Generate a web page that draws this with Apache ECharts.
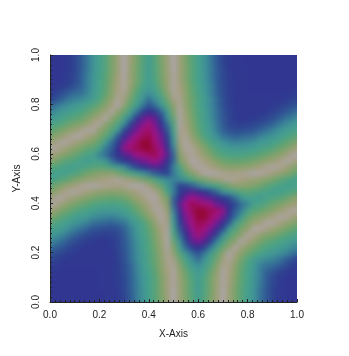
<!DOCTYPE html>
<html><head><meta charset="utf-8">
<style>html,body{margin:0;padding:0;background:#fff}#c{width:349px;height:356px}</style>
<script src="https://cdn.jsdelivr.net/npm/echarts@6/dist/echarts.min.js"></script>
</head><body><div id="c"></div>
<script>
const xTitle = 'X-Axis', yTitle = 'Y-Axis';
const step = 0.025;
const r00=[33,33,33,33,33,33,33,33,33,34,34,35,38,43,49,57,64,72,82,92,100,92,82,72,62,72,82,92,100,92,82,72,64,57,49,43,38,35,34,33,33];
const r01=[33,33,33,33,33,33,33,33,33,34,34,35,38,43,50,57,64,73,82,92,100,92,82,72,62,72,82,92,100,92,82,72,64,57,49,43,38,35,34,33,33];
const r02=[33,33,33,33,33,33,33,33,34,34,34,35,39,44,50,57,65,73,83,93,100,91,81,71,61,71,81,91,100,92,82,72,64,57,49,43,38,35,34,33,33];
const r03=[33,33,33,33,33,33,33,33,34,34,34,36,39,44,50,58,65,73,83,93,99,91,81,71,61,71,81,91,99,93,83,73,65,58,50,44,39,36,34,33,33];
const r04=[34,33,33,33,33,33,33,33,34,34,34,36,39,44,51,58,65,73,83,93,99,90,80,70,61,70,81,91,99,94,84,74,66,58,51,44,39,36,34,33,33];
const r05=[34,34,33,33,33,33,33,33,34,34,34,36,40,45,52,59,66,75,85,95,99,89,78,67,60,66,78,89,99,95,85,75,66,59,51,45,42,38,36,34,34];
const r06=[36,35,34,34,34,34,34,34,34,34,34,36,40,45,52,60,67,76,86,96,98,86,72,61,56,62,72,85,97,96,86,76,67,60,52,48,47,44,41,37,35];
const r07=[38,37,35,34,34,34,34,34,34,34,34,37,41,47,54,61,69,78,87,97,96,80,66,56,48,58,68,80,94,98,90,80,70,62,57,54,52,49,45,41,37];
const r08=[42,40,38,36,35,34,34,34,34,34,34,37,41,47,54,61,69,78,88,98,88,72,58,48,42,50,63,75,88,100,94,86,78,72,67,62,59,56,53,49,46];
const r09=[48,44,42,39,37,35,34,34,34,34,35,38,42,48,55,63,70,80,90,99,84,62,46,36,30,38,50,65,78,88,99,92,86,80,74,69,66,62,59,56,52];
const r10=[54,50,47,43,40,38,36,35,34,34,35,38,43,48,56,63,71,81,91,99,78,56,38,24,20,25,36,52,67,80,88,100,94,88,82,76,73,69,66,62,59];
const r11=[61,57,53,49,45,42,40,38,37,36,37,39,43,50,58,65,73,83,93,99,72,48,31,20,12,19,26,38,55,70,80,88,99,96,90,84,82,78,73,69,66];
const r12=[67,63,60,56,51,48,45,42,41,40,40,41,45,51,59,66,75,85,95,98,68,42,26,17,9,13,20,28,40,59,72,82,88,99,99,96,91,87,82,78,74];
const r13=[75,70,66,62,58,55,52,48,47,46,45,47,49,56,62,69,79,89,98,96,62,37,22,14,6,8,14,21,30,43,61,74,83,90,94,99,99,96,91,87,83];
const r14=[84,79,74,69,65,61,60,56,54,53,52,54,57,62,69,77,86,94,99,94,58,32,19,11,3,2,9,15,22,36,47,62,75,82,86,90,94,98,99,96,91];
const r15=[93,88,82,78,72,69,66,63,61,60,60,61,64,69,76,84,92,98,99,90,52,28,16,8,2,4,7,10,17,30,44,50,66,73,76,81,85,90,94,98,99];
const r16=[100,97,91,86,82,78,75,71,69,68,67,68,70,75,82,89,95,98,96,86,46,24,15,7,9,12,15,22,26,32,40,48,53,65,68,72,78,82,86,91,94];
const r17=[93,98,99,95,91,88,84,81,78,77,76,77,79,84,90,95,98,100,92,82,46,30,20,15,18,21,25,29,35,40,48,58,63,64,61,66,69,72,76,82,86];
const r18=[84,89,95,98,99,97,94,91,88,87,86,86,88,92,95,98,99,96,86,68,52,36,28,25,28,33,39,46,56,62,68,72,74,72,69,67,64,64,67,70,74];
const r19=[75,81,86,91,94,97,99,100,98,97,96,96,97,99,100,99,94,84,76,60,50,38,40,44,50,57,64,70,76,82,88,87,86,83,80,75,70,67,64,64,66];
const r20=[64,68,72,77,82,86,89,91,94,95,97,98,96,92,88,82,78,70,60,54,52,54,60,70,78,82,88,92,96,98,97,95,94,91,89,86,82,77,72,68,64];
const r21=[66,64,64,67,70,75,80,83,86,87,88,82,76,70,64,57,50,44,40,38,50,60,76,84,94,99,100,99,97,96,96,97,98,100,99,97,94,91,86,81,75];
const r22=[74,70,67,64,64,67,69,72,74,72,68,62,56,46,39,33,28,25,28,36,52,68,86,96,99,98,95,92,88,86,86,87,88,91,94,97,99,98,95,89,84];
const r23=[86,82,76,72,69,66,61,64,63,58,48,40,35,29,25,21,18,15,20,30,46,82,92,100,98,95,90,84,79,77,76,77,78,81,84,88,91,95,99,98,93];
const r24=[94,91,86,82,78,72,68,65,53,48,40,32,26,22,15,12,9,7,15,24,46,86,96,98,95,89,82,75,70,68,67,68,69,71,75,78,82,86,91,97,100];
const r25=[99,98,94,90,85,81,76,73,66,50,44,30,17,10,7,4,2,8,16,28,52,90,99,98,92,84,76,69,64,61,60,60,61,63,66,69,72,78,82,88,93];
const r26=[91,96,99,98,94,90,86,82,75,62,47,36,22,15,9,2,3,11,19,32,58,94,99,94,86,77,69,62,57,54,52,53,54,56,60,61,65,69,74,79,84];
const r27=[83,87,91,96,99,99,94,90,83,74,61,43,30,21,14,8,6,14,22,37,62,96,98,89,79,69,62,56,49,47,45,46,47,48,52,55,58,62,66,70,75];
const r28=[74,78,82,87,91,96,99,99,88,82,72,59,40,28,20,13,9,17,26,42,68,98,95,85,75,66,59,51,45,41,40,40,41,42,45,48,51,56,60,63,67];
const r29=[66,69,73,78,82,84,90,96,99,88,80,70,55,38,26,19,12,20,31,48,72,99,93,83,73,65,58,50,43,39,37,36,37,38,40,42,45,49,53,57,61];
const r30=[59,62,66,69,73,76,82,88,94,100,88,80,67,52,36,25,20,24,38,56,78,99,91,81,71,63,56,48,43,38,35,34,34,35,36,38,40,43,47,50,54];
const r31=[52,56,59,62,66,69,74,80,86,92,99,88,78,65,50,38,30,36,46,62,84,99,90,80,70,63,55,48,42,38,35,34,34,34,34,35,37,39,42,44,48];
const r32=[46,49,53,56,59,62,67,72,78,86,94,100,88,75,63,50,42,48,58,72,88,98,88,78,69,61,54,47,41,37,34,34,34,34,34,34,35,36,38,40,42];
const r33=[37,41,45,49,52,54,57,62,70,80,90,98,94,80,68,58,48,56,66,80,96,97,87,78,69,61,54,47,41,37,34,34,34,34,34,34,34,34,35,37,38];
const r34=[35,37,41,44,47,48,52,60,67,76,86,96,97,85,72,62,56,61,72,86,98,96,86,76,67,60,52,45,40,36,34,34,34,34,34,34,34,34,34,35,36];
const r35=[34,34,36,38,42,45,51,59,66,75,85,95,99,89,78,66,60,67,78,89,99,95,85,75,66,59,52,45,40,36,34,34,34,33,33,33,33,33,33,34,34];
const r36=[33,33,34,36,39,44,51,58,66,74,84,94,99,91,81,70,61,70,80,90,99,93,83,73,65,58,51,44,39,36,34,34,34,33,33,33,33,33,33,33,34];
const r37=[33,33,34,36,39,44,50,58,65,73,83,93,99,91,81,71,61,71,81,91,99,93,83,73,65,58,50,44,39,36,34,34,34,33,33,33,33,33,33,33,33];
const r38=[33,33,34,35,38,43,49,57,64,72,82,92,100,91,81,71,61,71,81,91,100,93,83,73,65,57,50,44,39,35,34,34,34,33,33,33,33,33,33,33,33];
const r39=[33,33,34,35,38,43,49,57,64,72,82,92,100,92,82,72,62,72,82,92,100,92,82,73,64,57,50,43,38,35,34,34,33,33,33,33,33,33,33,33,33];
const r40=[33,33,34,35,38,43,49,57,64,72,82,92,100,92,82,72,62,72,82,92,100,92,82,72,64,57,49,43,38,35,34,34,33,33,33,33,33,33,33,33,33];
const rows=[r00,r01,r02,r03,r04,r05,r06,r07,r08,r09,r10,r11,r12,r13,r14,r15,r16,r17,r18,r19,r20,r21,r22,r23,r24,r25,r26,r27,r28,r29,r30,r31,r32,r33,r34,r35,r36,r37,r38,r39,r40];
const palette=['#8e0626','#980a48','#a01070','#a01488','#7a1a92','#55248f','#35308f','#2f3a90','#2f4c92','#326296','#387a98','#3e8e97','#439a92','#46a08c','#50a380','#5ea374','#72a36c','#86a16a','#96a070','#a59f80','#aca4a8'];

const cells=[];
rows.forEach((row,j)=>row.forEach((v,i)=>cells.push([i*step,j*step,v])));

const axisBase={type:'value',min:0,max:1,interval:0.2,nameLocation:'middle',
  nameTextStyle:{fontFamily:'Liberation Sans',fontSize:10,color:'#222'},
  axisLine:{show:true,lineStyle:{color:'#222',width:1}},
  axisTick:{show:true,inside:true,length:3,lineStyle:{color:'#222',width:1}},
  minorTick:{show:true,splitNumber:10,length:2,lineStyle:{color:'#222',width:1}},
  splitLine:{show:false},minorSplitLine:{show:false},zlevel:1};
const chart=echarts.init(document.getElementById('c'),null,{renderer:'canvas'});
chart.setOption({
  animation:false,backgroundColor:'transparent',
  grid:{left:50,top:55,width:247,height:247,show:false},
  xAxis:Object.assign({},axisBase,{name:xTitle,nameGap:27,
    axisLabel:{margin:8,fontFamily:'Liberation Sans',fontSize:10,color:'#222',formatter:v=>v.toFixed(1)}}),
  yAxis:Object.assign({},axisBase,{name:yTitle,nameGap:28,
    axisLabel:{margin:9,rotate:90,fontFamily:'Liberation Sans',fontSize:10,color:'#222',formatter:v=>v.toFixed(1)}}),
  visualMap:{show:false,min:0,max:100,dimension:2,seriesIndex:0,inRange:{color:palette}},
  series:[{type:'custom',zlevel:0,clip:false,silent:true,data:cells,encode:{x:0,y:1},
    renderItem:function(params,api){
      const p=api.coord([api.value(0),api.value(1)]);
      const s=api.size([step,step]);
      const xi=api.value(0),yi=api.value(1);
      const padL=xi<=0?10:0,padR=xi>=1?10:0,padB=yi<=0?10:0,padT=yi>=1?10:0;
      return {type:'rect',shape:{x:p[0]-s[0]/2-padL,y:p[1]-s[1]/2-padT,
        width:s[0]+1+padL+padR,height:s[1]+1+padT+padB},
        style:{fill:api.visual('color')}};
    }}]
});
function soften(){
  const cv=document.querySelector('#c canvas');
  if(cv){cv.style.filter='blur(2.5px)';cv.style.clipPath='inset(55px 52px 54px 50px)';}
}
soften();
</script></body></html>
